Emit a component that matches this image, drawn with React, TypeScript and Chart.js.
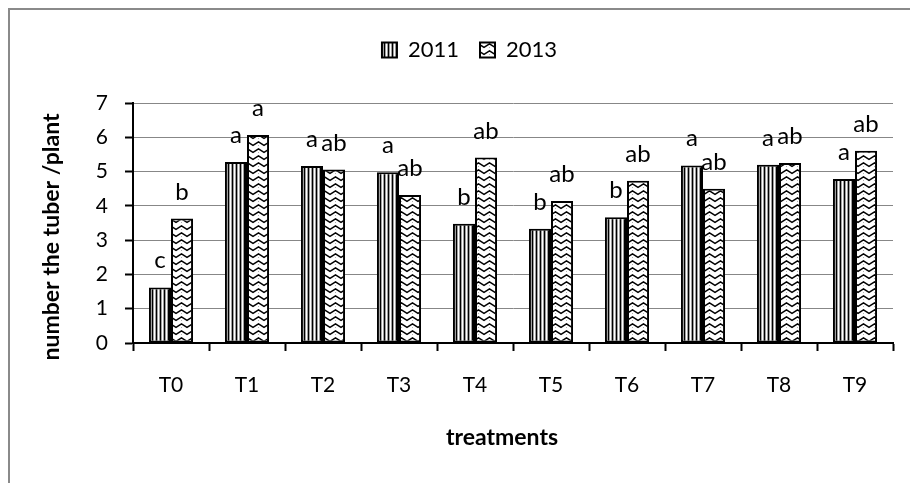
import React, { useEffect, useRef } from "react";
import { Chart, registerables } from "chart.js";

Chart.register(...registerables);

const categories = ["T0", "T1", "T2", "T3", "T4", "T5", "T6", "T7", "T8", "T9"];
const seriesNames = ["2011", "2013"];
const values2011 = [1.62, 5.28, 5.16, 4.98, 3.48, 3.33, 3.67, 5.18, 5.2, 4.78];
const values2013 = [3.63, 6.07, 5.06, 4.32, 5.41, 4.14, 4.73, 4.5, 5.25, 5.61];
const letters2011 = ["c", "a", "a", "a", "b", "b", "b", "a", "a", "a"];
const letters2013 = ["b", "a", "ab", "ab", "ab", "ab", "ab", "ab", "ab", "ab"];
const yTicks = [0, 1, 2, 3, 4, 5, 6, 7];
const yTitle = "number the tuber /plant";
const xTitle = "treatments";

const FONT = "Lato";

function makeStripes(): CanvasPattern | string {
  const c = document.createElement("canvas");
  c.width = 4;
  c.height = 4;
  const g = c.getContext("2d");
  if (!g) return "#999";
  g.fillStyle = "#ffffff";
  g.fillRect(0, 0, 4, 4);
  g.fillStyle = "#000000";
  g.fillRect(0, 0, 1, 4);
  g.fillStyle = "#a0a0a0";
  g.fillRect(1, 0, 1, 4);
  g.fillRect(3, 0, 1, 4);
  return g.createPattern(c, "repeat") || "#999";
}

function makeZigzag(): CanvasPattern | string {
  const w = 11;
  const h = 7;
  const c = document.createElement("canvas");
  c.width = w;
  c.height = h;
  const g = c.getContext("2d");
  if (!g) return "#ccc";
  g.fillStyle = "#ffffff";
  g.fillRect(0, 0, w, h);
  g.strokeStyle = "#000000";
  g.lineWidth = 1.5;
  g.beginPath();
  g.moveTo(-1, 6);
  g.lineTo(5.5, 1.8);
  g.lineTo(12, 6);
  g.stroke();
  g.fillStyle = "#b0b0b0";
  g.fillRect(5, 5, 1, 1);
  return g.createPattern(c, "repeat") || "#ccc";
}

const framePlugin = {
  id: "frame",
  beforeDraw(chart: any) {
    const ctx = chart.ctx;
    ctx.save();
    ctx.fillStyle = "#ffffff";
    ctx.fillRect(0, 0, chart.width, chart.height);
    ctx.strokeStyle = "#8a8a8a";
    ctx.lineWidth = 2;
    ctx.beginPath();
    ctx.moveTo(9, chart.height + 5);
    ctx.lineTo(9, 9);
    ctx.lineTo(chart.width + 5, 9);
    ctx.stroke();
    ctx.restore();
  },
};

const legendGapPlugin = {
  id: "legendGap",
  beforeLayout(chart: any) {
    const lg = chart.legend;
    if (lg && !lg._gapPatched) {
      const orig = lg.fit.bind(lg);
      lg.fit = function () {
        orig();
        this.height += 32;
      };
      lg._gapPatched = true;
    }
  },
};

const lettersPlugin = {
  id: "letters",
  afterDatasetsDraw(chart: any) {
    const ctx = chart.ctx;
    const all = [letters2011, letters2013];
    ctx.save();
    ctx.fillStyle = "#000";
    ctx.font = `24px ${FONT}`;
    ctx.textAlign = "center";
    ctx.textBaseline = "alphabetic";
    all.forEach((letters, di) => {
      const meta = chart.getDatasetMeta(di);
      meta.data.forEach((el: any, i: number) => {
        ctx.fillText(letters[i], el.x, el.y - 19);
      });
    });
    ctx.restore();
  },
};

const titlesPlugin = {
  id: "axisTitles",
  afterDraw(chart: any) {
    const ctx = chart.ctx;
    ctx.save();
    ctx.fillStyle = "#000";
    ctx.font = `bold 23px ${FONT}`;
    ctx.textAlign = "center";
    ctx.textBaseline = "middle";
    ctx.fillText(xTitle, 502, 438);
    ctx.translate(52, 237);
    ctx.rotate(-Math.PI / 2);
    ctx.fillText(yTitle, 0, 0);
    ctx.restore();
  },
};

export default function App() {
  const ref = useRef<HTMLCanvasElement | null>(null);

  useEffect(() => {
    if (!ref.current) return;
    const stripes = makeStripes();
    const zigzag = makeZigzag();
    const chart = new Chart(ref.current, {
      type: "bar",
      data: {
        labels: categories,
        datasets: [
          {
            label: seriesNames[0],
            data: values2011,
            backgroundColor: stripes as any,
            borderColor: "#000",
            borderWidth: 2,
            borderSkipped: false,
          },
          {
            label: seriesNames[1],
            data: values2013,
            backgroundColor: zigzag as any,
            borderColor: "#000",
            borderWidth: 2,
            borderSkipped: false,
          },
        ],
      },
      options: {
        responsive: false,
        animation: false,
        devicePixelRatio: 1,
        datasets: {
          bar: { categoryPercentage: 0.58, barPercentage: 1.0 },
        },
        font: { family: FONT },
        layout: { padding: { left: 46, right: 17, top: 18, bottom: 0 } },
        plugins: {
          legend: {
            position: "top",
            labels: {
              boxWidth: 15,
              boxHeight: 15,
              padding: 21,
              color: "#000",
              font: { family: FONT, size: 22 },
            },
          },
          tooltip: { enabled: false },
        },
        scales: {
          x: {
            offset: true,
            grid: {
              offset: true,
              drawOnChartArea: false,
              drawTicks: true,
              tickLength: 8,
              tickColor: "#000",
              tickWidth: 2,
            },
            border: { display: true, color: "#000", width: 2 },
            ticks: { color: "#000", font: { family: FONT, size: 21 }, padding: 22 },
            afterFit: (s: any) => {
              s.height = 140;
            },
          },
          y: {
            min: 0,
            max: 7,
            grid: {
              color: "#878787",
              lineWidth: 1,
              tickColor: "#000",
              tickWidth: 2,
              tickLength: 8,
            },
            border: { display: true, color: "#000", width: 2 },
            ticks: { color: "#000", font: { family: FONT, size: 21 }, padding: 17 },
            afterBuildTicks: (s: any) => {
              s.ticks = yTicks.map((v) => ({ value: v }));
            },
            afterFit: (s: any) => {
              s.width = 87;
            },
          },
        },
      } as any,
      plugins: [framePlugin, legendGapPlugin, lettersPlugin, titlesPlugin],
    });
    return () => chart.destroy();
  }, []);

  return (
    <div style={{ position: "absolute", left: 0, top: 0, width: 910, height: 483 }}>
      <canvas ref={ref} width={910} height={483} style={{ display: "block" }} />
    </div>
  );
}
